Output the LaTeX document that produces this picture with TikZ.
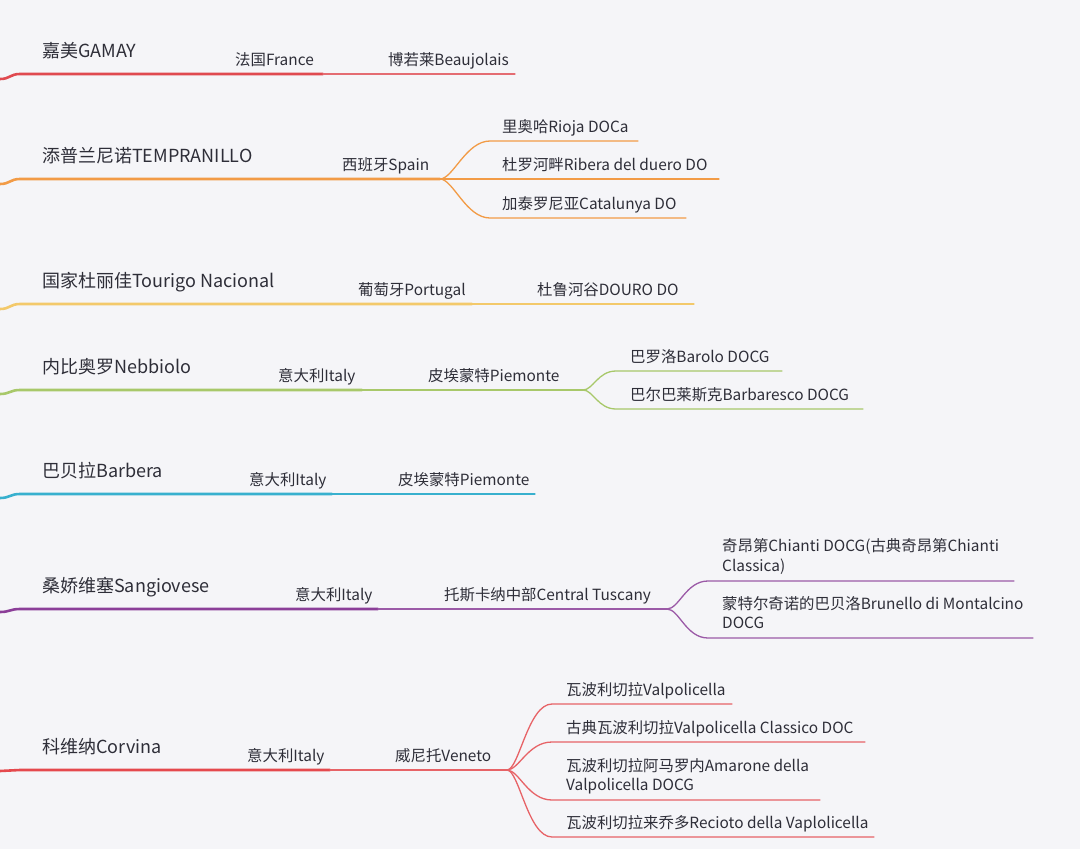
\documentclass[tikz,border=0pt]{standalone}
\usepackage{fontspec}
\setmainfont{Noto Sans CJK SC}
\definecolor{bg}{HTML}{F5F5F8}
\definecolor{txt}{HTML}{2E2E38}
\definecolor{cA}{HTML}{E04A50}
\definecolor{cB}{HTML}{F29B46}
\definecolor{cC}{HTML}{F3C96B}
\definecolor{cD}{HTML}{A8C86A}
\definecolor{cE}{HTML}{38B0CE}
\definecolor{cF}{HTML}{8B3E98}
\definecolor{cG}{HTML}{E5494D}
\begin{document}
\begin{tikzpicture}[x=1pt,y=-1pt,
  topic/.style={anchor=base west,inner sep=0pt,text=txt,font=\fontsize{18}{22}\selectfont},
  sub/.style={anchor=base west,inner sep=0pt,text=txt,font=\fontsize{15.4}{19.5}\selectfont,align=left},
  mainln/.style={line width=2.6pt,line cap=round},
  subln/.style={line width=1.3pt,line cap=round},
  fork/.style={subln}]
\fill[bg] (0,0) rectangle (1080,849);
\useasboundingbox (0,0) rectangle (1080,849);

% ---------- Branch 1: GAMAY ----------
\coordinate (r1) at (0,79); \coordinate (u1) at (20,74);
\coordinate (e1a) at (323,74); \coordinate (e1b) at (515,74);
\node[topic] (n1) at (42,57) {嘉美GAMAY};
\node[sub] (n1a) at (235,65) {法国France};
\node[sub] (n1b) at (388,65) {博若莱Beaujolais};
\draw[mainln,cA] (r1) .. controls +(10,0) and +(-10,0) .. (u1) -- (e1a);
\draw[subln,cA!80!bg] (e1a) -- (e1b);

% ---------- Branch 2: TEMPRANILLO ----------
\coordinate (r2) at (0,184); \coordinate (u2) at (20,179);
\coordinate (b2) at (440,179);
\coordinate (s2a) at (490,141); \coordinate (e2a) at (638,141);
\coordinate (e2b) at (719,179);
\coordinate (s2c) at (490,218); \coordinate (e2c) at (686,218);
\node[topic] (n2) at (42,162) {添普兰尼诺TEMPRANILLO};
\node[sub] (n2a) at (342,170) {西班牙Spain};
\node[sub] (n2b1) at (502,132) {里奥哈Rioja DOCa};
\node[sub] (n2b2) at (502,170) {杜罗河畔Ribera del duero DO};
\node[sub] (n2b3) at (502,209) {加泰罗尼亚Catalunya DO};
\draw[mainln,cB] (r2) .. controls +(10,0) and +(-10,0) .. (u2) -- (b2);
\draw[fork,cB] (b2) .. controls +(13,0) and +(-24,0) .. (s2a) -- (e2a);
\draw[fork,cB] (b2) -- (e2b);
\draw[fork,cB] (b2) .. controls +(13,0) and +(-24,0) .. (s2c) -- (e2c);

% ---------- Branch 3: Tourigo Nacional ----------
\coordinate (r3) at (0,309); \coordinate (u3) at (20,304);
\coordinate (e3a) at (472,304); \coordinate (e3b) at (694,304);
\node[topic] (n3) at (42,287) {国家杜丽佳Tourigo Nacional};
\node[sub] (n3a) at (358,295) {葡萄牙Portugal};
\node[sub] (n3b) at (537,295) {杜鲁河谷DOURO DO};
\draw[mainln,cC] (r3) .. controls +(10,0) and +(-10,0) .. (u3) -- (e3a);
\draw[subln,cC] (e3a) -- (e3b);

% ---------- Branch 4: Nebbiolo ----------
\coordinate (r4) at (0,394); \coordinate (u4) at (20,390);
\coordinate (e4a) at (362,390); \coordinate (b4) at (583,390);
\coordinate (s4a) at (616,371); \coordinate (e4b1) at (782,371);
\coordinate (s4b) at (616,409); \coordinate (e4b2) at (863,409);
\node[topic] (n4) at (42,373) {内比奥罗Nebbiolo};
\node[sub] (n4a) at (278,381) {意大利Italy};
\node[sub] (n4b) at (428,381) {皮埃蒙特Piemonte};
\node[sub] (n4c1) at (630,362) {巴罗洛Barolo DOCG};
\node[sub] (n4c2) at (630,400) {巴尔巴莱斯克Barbaresco DOCG};
\draw[mainln,cD] (r4) .. controls +(10,0) and +(-10,0) .. (u4) -- (e4a);
\draw[subln,cD] (e4a) -- (b4);
\draw[fork,cD] (b4) .. controls +(10,0) and +(-18,0) .. (s4a) -- (e4b1);
\draw[fork,cD] (b4) .. controls +(10,0) and +(-18,0) .. (s4b) -- (e4b2);

% ---------- Branch 5: Barbera ----------
\coordinate (r5) at (0,498); \coordinate (u5) at (20,494);
\coordinate (e5a) at (332,494); \coordinate (e5b) at (535,494);
\node[topic] (n5) at (42,477) {巴贝拉Barbera};
\node[sub] (n5a) at (249,485) {意大利Italy};
\node[sub] (n5b) at (398,485) {皮埃蒙特Piemonte};
\draw[mainln,cE] (r5) .. controls +(10,0) and +(-10,0) .. (u5) -- (e5a);
\draw[subln,cE] (e5a) -- (e5b);

% ---------- Branch 6: Sangiovese ----------
\coordinate (r6) at (0,612); \coordinate (u6) at (20,609);
\coordinate (e6a) at (378,609); \coordinate (b6) at (667,609);
\coordinate (s6a) at (708,581); \coordinate (e6c1) at (1014,581);
\coordinate (s6b) at (708,638); \coordinate (e6c2) at (1033,638);
\node[topic] (n6) at (42,592) {桑娇维塞Sangiovese};
\node[sub] (n6a) at (295,600) {意大利Italy};
\node[sub] (n6b) at (444,600) {托斯卡纳中部Central Tuscany};
\node[sub] (n6c1) at (722,571) {奇昂第Chianti DOCG(古典奇昂第Chianti\\Classica)};
\node[sub] (n6c2) at (722,628.5) {蒙特尔奇诺的巴贝洛Brunello di Montalcino\\DOCG};
\draw[mainln,cF] (r6) .. controls +(10,0) and +(-10,0) .. (u6) -- (e6a);
\draw[subln,cF!85!bg] (e6a) -- (b6);
\draw[fork,cF!85!bg] (b6) .. controls +(12,0) and +(-22,0) .. (s6a) -- (e6c1);
\draw[fork,cF!85!bg] (b6) .. controls +(12,0) and +(-22,0) .. (s6b) -- (e6c2);

% ---------- Branch 7: Corvina ----------
\coordinate (r7) at (0,771); \coordinate (u7) at (20,770);
\coordinate (e7a) at (330,770); \coordinate (b7) at (507,770);
\coordinate (s7a) at (552,704); \coordinate (e7c1) at (732,704);
\coordinate (s7b) at (552,742); \coordinate (e7c2) at (865,742);
\coordinate (s7c) at (552,800); \coordinate (e7c3) at (820,800);
\coordinate (s7d) at (552,837); \coordinate (e7c4) at (874,837);
\node[topic] (n7) at (42,753) {科维纳Corvina};
\node[sub] (n7a) at (247,761) {意大利Italy};
\node[sub] (n7b) at (395,761) {威尼托Veneto};
\node[sub] (n7c1) at (566,695) {瓦波利切拉Valpolicella};
\node[sub] (n7c2) at (566,733) {古典瓦波利切拉Valpolicella Classico DOC};
\node[sub] (n7c3) at (566,790.5) {瓦波利切拉阿马罗内Amarone della\\Valpolicella DOCG};
\node[sub] (n7c4) at (566,828) {瓦波利切拉来乔多Recioto della Vaplolicella};
\draw[mainln,cG] (r7) .. controls +(10,0) and +(-10,0) .. (u7) -- (e7a);
\draw[subln,cG!85!bg] (e7a) -- (b7);
\draw[fork,cG!85!bg] (b7) .. controls +(12,0) and +(-24,0) .. (s7a) -- (e7c1);
\draw[fork,cG!85!bg] (b7) .. controls +(12,0) and +(-24,0) .. (s7b) -- (e7c2);
\draw[fork,cG!85!bg] (b7) .. controls +(12,0) and +(-24,0) .. (s7c) -- (e7c3);
\draw[fork,cG!85!bg] (b7) .. controls +(12,0) and +(-24,0) .. (s7d) -- (e7c4);
\end{tikzpicture}
\end{document}
